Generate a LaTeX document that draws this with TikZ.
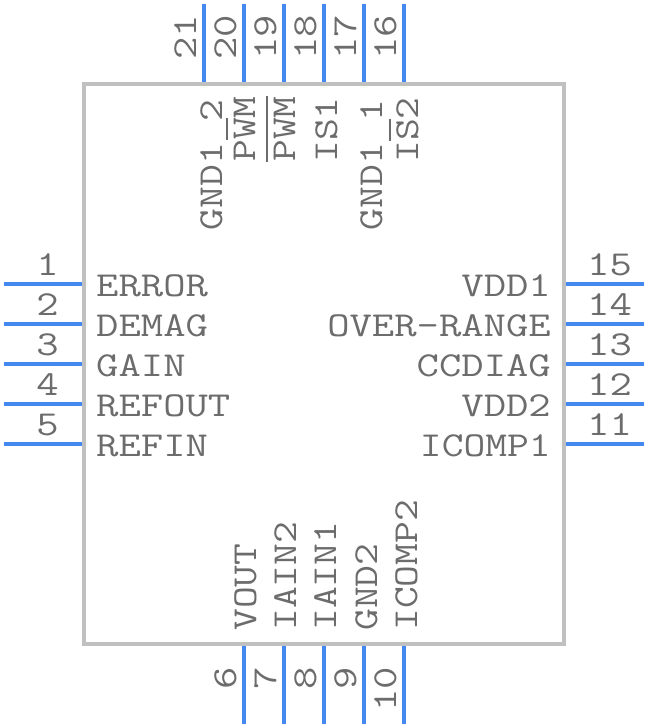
\documentclass[tikz,border=0pt]{standalone}
\usepackage{graphicx}
\definecolor{pinblue}{HTML}{4488F0}
\definecolor{bodygray}{HTML}{C0C0C0}
\definecolor{txtgray}{HTML}{6C6C6C}
\newcommand{\st}[1]{\scalebox{1.24}[1]{#1}}
\newcommand{\sv}[1]{\scalebox{1.21}[1]{#1}}
\newcommand{\barch}[1]{\rlap{\rule[27pt]{18.4pt}{2pt}}#1}
\tikzset{
  x=1pt,y=-1pt,
  pin line/.style={draw=pinblue,line width=4pt},
  body/.style={draw=bodygray,line width=4pt,fill=white},
  lab/.style={text=txtgray,inner sep=0pt,font=\ttfamily\fontsize{35}{35}\selectfont},
  rv/.style={lab,rotate=90}
}
\begin{document}
\begin{tikzpicture}
\useasboundingbox (0,0) rectangle (648,728);
\draw[body] (84,84) rectangle (564,644);
% left pins
\foreach \n/\y in {1/284,2/324,3/364,4/404,5/444}{
  \coordinate (pa\n) at (4,\y); \coordinate (pb\n) at (82,\y);
  \draw[pin line] (pa\n) -- (pb\n);
  \node[lab,anchor=base east] (num\n) at (59,\y-9) {\st{\n}};
}
% right pins
\foreach \n/\y in {15/284,14/324,13/364,12/404,11/444}{
  \coordinate (pa\n) at (566,\y); \coordinate (pb\n) at (644,\y);
  \draw[pin line] (pa\n) -- (pb\n);
  \node[lab,anchor=base west] (num\n) at (587,\y-9) {\st{\n}};
}
% top pins
\foreach \n/\x in {21/204,20/244,19/284,18/324,17/364,16/404}{
  \coordinate (pa\n) at (\x,4); \coordinate (pb\n) at (\x,82);
  \draw[pin line] (pa\n) -- (pb\n);
  \node[rv,anchor=base east] (num\n) at (\x-8,15) {\st{\n}};
}
% bottom pins
\foreach \n/\x in {6/244,7/284,8/324,9/364,10/404}{
  \coordinate (pa\n) at (\x,646); \coordinate (pb\n) at (\x,724);
  \draw[pin line] (pa\n) -- (pb\n);
  \node[rv,anchor=base east] (num\n) at (\x-8,667) {\st{\n}};
}
% left labels
\foreach \t/\y in {ERROR/296,DEMAG/336,GAIN/376,REFOUT/416,REFIN/456}
  \node[lab,anchor=base west] (l\t) at (96,\y) {\st{\t}};
% right labels
\foreach \t/\y in {VDD1/296,OVER-RANGE/336,CCDIAG/376,VDD2/416}
  \node[lab,anchor=base east] (r\t) at (551,\y) {\st{\t}};
\node[lab,anchor=base east] (rICOMP1) at (551,456) {\sv{ICOMP1}};
% top labels
\node[rv,anchor=base east] (tA) at (222,99) {\sv{GND1 2}};
\node[rv,anchor=base east] (tB) at (255,96) {\sv{P\barch{W}M}};
\node[rv,anchor=base east] (tC) at (295,96) {\sv{\barch{P}\barch{W}\barch{M}}};
\node[rv,anchor=base east] (tD) at (337,97) {\sv{IS1}};
\node[rv,anchor=base east] (tE) at (382,99) {\sv{GND1 1}};
\node[rv,anchor=base east] (tF) at (418,97) {\sv{I\barch{S}2}};
% bottom labels
\foreach \t/\x in {VOUT/256,IAIN2/296,IAIN1/336,GND2/377,ICOMP2/417}
  \node[rv,anchor=base west] (b\t) at (\x,631) {\sv{\t}};
\end{tikzpicture}
\end{document}
